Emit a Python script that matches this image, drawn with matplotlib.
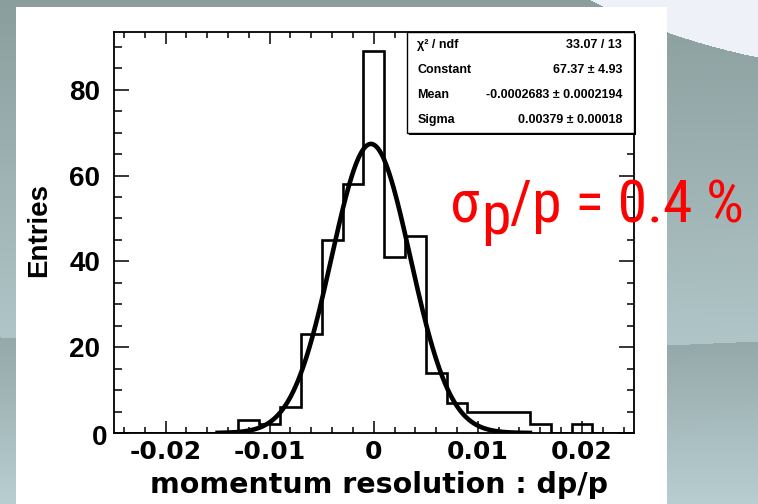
import numpy as np
import matplotlib
matplotlib.use('Agg')
import matplotlib.pyplot as plt
import matplotlib.transforms as mtransforms
from matplotlib.patches import Rectangle
from matplotlib.ticker import MultipleLocator

# histogram of dp/p, bins of 0.002 from -0.025 to 0.025
bin_edges = np.linspace(-0.025, 0.025, 26)
counts = [0, 0, 0, 0, 0, 0, 3, 2, 6, 23, 45, 58, 89,
          41, 46, 14, 7, 5, 5, 5, 2, 0, 2, 0, 0]

# gaussian fit result
fit_const, fit_mean, fit_sigma = 67.37, -0.0002683, 0.00379
fit_range = (-0.015, 0.015)

stat_names = ['χ² / ndf', 'Constant', 'Mean', 'Sigma']
stat_values = ['33.07 / 13', '67.37 ± 4.93', '-0.0002683 ± 0.0002194', '0.00379 ± 0.00018']

x_ticks = [-0.02, -0.01, 0, 0.01, 0.02]
x_ticklabels = ['-0.02', '-0.01', '0', '0.01', '0.02']
y_ticks = [0, 20, 40, 60, 80]

W, H = 758, 504
fig = plt.figure(figsize=(W / 100, H / 100), dpi=100)

# slide background
bg = fig.add_axes([0, 0, 1, 1])
bg.set_axis_off()
yy, xx = np.mgrid[0:H, 0:W].astype(float)
y_band = np.interp(xx, [0, 667, 758], [337, 345, 341])
top_a, top_b = np.array([0x8b, 0x9e, 0x9e]), np.array([0xb0, 0xc5, 0xc7])
low_a, low_b = np.array([0x95, 0xa9, 0xaa]), np.array([0xb9, 0xce, 0xd1])
upper = yy < y_band
t_up = (yy / y_band)[..., None]
t_lo = ((yy - y_band) / (H - y_band)).clip(0, 1)[..., None]
img = np.where(upper[..., None], top_a + (top_b - top_a) * t_up, low_a + (low_b - low_a) * t_lo)
dx = xx - 590
y_swoosh = np.where(dx > 0, 0.48 * dx - 0.000839 * dx ** 2, -1)
img[yy < y_swoosh] = np.array([0xee, 0xf1, 0xf7])
bg.imshow(img / 255, extent=[0, W, H, 0], aspect='auto', interpolation='bilinear')
bg.set_xlim(0, W)
bg.set_ylim(H, 0)
bg.add_patch(Rectangle((16, 7), 651, H - 7, facecolor='white', edgecolor='none'))

# main frame
ax = fig.add_axes([113.5 / W, (H - 433) / H, 520.5 / W, 401 / H])
ax.set_facecolor('white')
ax.stairs(counts, bin_edges, color='black', lw=1.9, baseline=0)
xf = np.linspace(fit_range[0], fit_range[1], 400)
ax.plot(xf, fit_const * np.exp(-0.5 * ((xf - fit_mean) / fit_sigma) ** 2), color='black', lw=3.3)

ax.set_xlim(-0.025, 0.025)
ax.set_ylim(0, 1.05 * max(counts))
ax.xaxis.set_major_locator(MultipleLocator(0.01))
ax.xaxis.set_minor_locator(MultipleLocator(0.002))
ax.yaxis.set_major_locator(MultipleLocator(20))
ax.yaxis.set_minor_locator(MultipleLocator(5))
ax.set_xticks(x_ticks)
ax.set_xticklabels(x_ticklabels)
ax.set_yticks(y_ticks)
ax.tick_params(which='both', direction='in', top=True, right=True, width=1.1, color='black')
ax.tick_params(axis='x', which='major', length=8.3, pad=5)
ax.tick_params(axis='x', which='minor', length=4.3)
ax.tick_params(axis='y', which='major', length=10.8, pad=9.5)
ax.tick_params(axis='y', which='minor', length=5.4)
for lab in ax.get_xticklabels():
    lab.set_fontfamily('DejaVu Sans')
    lab.set_fontweight('bold')
    lab.set_fontsize(18)
for lab in ax.get_yticklabels():
    lab.set_fontfamily('Liberation Sans')
    lab.set_fontweight('bold')
    lab.set_fontsize(20)
# ROOT nudges the zero label of the y axis towards the corner
zero_lab = ax.get_yticklabels()[0]
zero_lab.set_transform(zero_lab.get_transform() +
                       mtransforms.ScaledTranslation(7 / 100, -2 / 100, fig.dpi_scale_trans))
for sp in ax.spines.values():
    sp.set_linewidth(1.3)

fig.text(39 / W, (H - 230) / H, 'Entries', rotation=90, ha='center', va='center',
         fontsize=20, fontweight='bold', family='Liberation Sans')
fig.text(379 / W, (H - 493) / H, 'momentum resolution : dp/p', ha='center', va='baseline',
         fontsize=20.5, fontweight='bold', family='DejaVu Sans')

# fit statistics box
bx0, by0 = (407 - 113.5) / 520.5, (433 - 133) / 401
bw, bh = 1 - bx0, 1 - by0
ax.add_patch(Rectangle((bx0 + 0.004, by0 - 0.006), bw, bh, transform=ax.transAxes,
                       facecolor='black', edgecolor='none', clip_on=False, zorder=5))
ax.add_patch(Rectangle((bx0, by0), bw, bh, transform=ax.transAxes,
                       facecolor='white', edgecolor='black', lw=1.0, clip_on=False, zorder=6))
for i, (name, val) in enumerate(zip(stat_names, stat_values)):
    yrow = 1 - bh * (i + 0.5) / len(stat_names)
    ax.text(bx0 + 0.02, yrow, name, transform=ax.transAxes, ha='left', va='center',
            fontsize=9, fontweight='bold', family='Liberation Sans', zorder=7)
    ax.text(0.977, yrow, val, transform=ax.transAxes, ha='right', va='center',
            fontsize=9, fontweight='bold', family='Liberation Sans', zorder=7)

# resolution annotation
narrow = ['Liberation Sans Narrow', 'Roboto Condensed', 'Archivo Narrow', 'Liberation Sans']
t1 = fig.text(450 / W, (H - 222) / H, 'σ', color='red', fontsize=43, family=narrow,
              va='baseline', ha='left', zorder=10)
t2 = ax.annotate('p', xy=(1, 0), xycoords=t1, xytext=(1, -12), textcoords='offset pixels',
                 color='red', fontsize=43, family=narrow, va='bottom', ha='left',
                 annotation_clip=False, zorder=10)
ax.annotate('/p = 0.4 %', xy=(1, 0), xycoords=(t2, t1), xytext=(0, 0), textcoords='offset pixels',
            color='red', fontsize=43, family=narrow, va='bottom', ha='left',
            annotation_clip=False, zorder=10)

fig.savefig('out.png', dpi=100)
